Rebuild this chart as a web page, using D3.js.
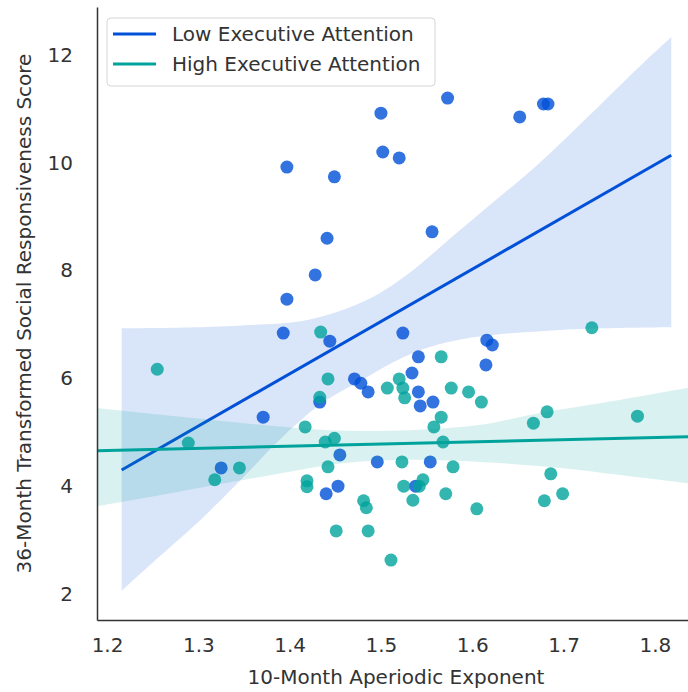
<!DOCTYPE html>
<html>
<head>
<meta charset="utf-8">
<script src="https://cdn.jsdelivr.net/npm/d3@7"></script>
<style>
body { margin: 0; background: #fff; }
text { font-family: "DejaVu Sans", sans-serif; fill: #333; }
</style>
</head>
<body>
<script>
// data
var seriesNames = ["Low Executive Attention", "High Executive Attention"];

var lowExp = [1.500,1.573,1.397,1.449,1.502,1.520,1.441,1.556,1.428,1.397,1.393,1.524,1.444,1.652,1.678,1.683,1.471,1.478,1.486,1.433,1.371,1.455,1.616,1.622,1.541,1.534,1.615,1.541,1.543,1.557,1.496,1.453,1.440,1.554,1.538,1.325];
var lowSrs = [10.92,11.20,9.92,9.74,10.20,10.09,8.60,8.72,7.92,7.47,6.84,6.84,6.69,10.85,11.09,11.09,5.99,5.91,5.75,5.56,5.28,4.58,6.71,6.62,6.40,6.10,6.25,5.75,5.49,5.56,4.45,4.00,3.86,4.45,4.00,4.34];

var highExp = [1.255,1.289,1.345,1.318,1.434,1.442,1.507,1.520,1.524,1.526,1.433,1.417,1.439,1.449,1.566,1.577,1.596,1.610,1.566,1.558,1.568,1.667,1.682,1.731,1.781,1.442,1.523,1.419,1.419,1.481,1.484,1.525,1.535,1.451,1.486,1.511,1.579,1.546,1.542,1.571,1.605,1.686,1.679,1.699];
var highSrs = [6.17,4.80,4.34,4.12,6.86,5.99,5.82,5.99,5.82,5.64,5.65,5.10,4.82,4.89,6.40,5.82,5.75,5.56,5.28,5.10,4.82,5.17,5.38,6.94,5.30,4.36,4.45,4.10,3.99,3.73,3.60,4.00,3.74,3.17,3.17,2.63,4.36,4.12,4.00,3.86,3.58,4.23,3.73,3.86];

// fitted lines (end points)
var lowFitExp = [1.216, 1.818];
var lowFitSrs = [4.30, 10.14];
var highFitExp = [1.189, 1.844];
var highFitSrs = [4.66, 4.92];

// confidence bands [exponent, score]
var lowBandUpper = [[1.216,6.93],[1.302,6.95],[1.357,6.99],[1.412,7.06],[1.455,7.25],[1.490,7.50],[1.521,7.83],[1.546,8.16],[1.576,8.60],[1.609,9.07],[1.674,10.00],[1.729,10.89],[1.791,11.91],[1.818,12.33]];
var lowBandLower = [[1.216,2.06],[1.247,2.54],[1.302,3.37],[1.357,4.30],[1.389,4.86],[1.433,5.51],[1.477,5.95],[1.532,6.45],[1.587,6.72],[1.696,6.90],[1.818,6.95]];
var highBandUpper = [[1.189,5.45],[1.368,5.14],[1.444,5.04],[1.532,5.04],[1.609,5.14],[1.674,5.36],[1.740,5.54],[1.844,5.85]];
var highBandLower = [[1.189,3.63],[1.247,3.80],[1.302,3.97],[1.368,4.17],[1.460,4.43],[1.532,4.49],[1.609,4.45],[1.696,4.34],[1.762,4.21],[1.844,4.04]];

var xTicks = [1.2, 1.3, 1.4, 1.5, 1.6, 1.7, 1.8];
var yTicks = [2, 4, 6, 8, 10, 12];

var colors = ["#0050d8", "#00a39c"];

var margin = {top: 7, right: -7, bottom: 72, left: 97};
var W = 688, H = 692;
var width = W - margin.left - margin.right;
var height = H - margin.top - margin.bottom;

var svg = d3.select("body").append("svg")
    .attr("width", W)
    .attr("height", H);

svg.append("clipPath").attr("id", "plotclip")
  .append("rect").attr("x", 0).attr("y", 0).attr("width", width).attr("height", height);

var g = svg.append("g")
    .attr("transform", "translate(" + margin.left + "," + margin.top + ")");

var xScale = d3.scaleLinear().domain([1.189, 1.844]).range([0, width]);
var yScale = d3.scaleLinear().domain([1.518, 12.89]).range([height, 0]);

var plot = g.append("g").attr("clip-path", "url(#plotclip)");

var straight = d3.line()
    .x(function(d){ return xScale(d[0]); })
    .y(function(d){ return yScale(d[1]); });

var smooth = d3.line()
    .x(function(d){ return xScale(d[0]); })
    .y(function(d){ return yScale(d[1]); })
    .curve(d3.curveCatmullRom);

var groups = [
  {exp: lowExp, srs: lowSrs, fx: lowFitExp, fy: lowFitSrs, up: lowBandUpper, lo: lowBandLower, color: colors[0]},
  {exp: highExp, srs: highSrs, fx: highFitExp, fy: highFitSrs, up: highBandUpper, lo: highBandLower, color: colors[1]}
];

groups.forEach(function(grp){
  // scatter
  plot.append("g").selectAll("circle")
    .data(d3.range(grp.exp.length))
    .enter()
    .append("circle")
    .attr("cx", function(i){ return xScale(grp.exp[i]); })
    .attr("cy", function(i){ return yScale(grp.srs[i]); })
    .attr("r", 6.5)
    .attr("fill", grp.color)
    .attr("fill-opacity", 0.8);

  // band: smooth upper edge, then smooth lower edge back
  var upPath = smooth(grp.up);
  var loPath = smooth(grp.lo.slice().reverse());
  plot.append("path")
    .attr("d", upPath + "L" + loPath.substring(1) + "Z")
    .attr("fill", grp.color)
    .attr("fill-opacity", 0.15)
    .attr("stroke", "none");

  // fit line
  plot.append("path")
    .attr("d", straight([[grp.fx[0], grp.fy[0]], [grp.fx[1], grp.fy[1]]]))
    .attr("stroke", grp.color)
    .attr("stroke-width", 3)
    .attr("fill", "none");
});

// Y axis
var yAxis = d3.axisLeft(yScale).tickValues(yTicks).tickSize(0).tickPadding(24).tickFormat(d3.format("d"));
var yG = g.append("g").call(yAxis);
yG.select(".domain").attr("stroke", "#333").attr("stroke-width", 1.5);
yG.selectAll("text").style("font-size", "20px").style("font-family", "DejaVu Sans");

// X axis
var xAxis = d3.axisBottom(xScale).tickValues(xTicks).tickSize(0).tickPadding(18).tickFormat(d3.format(".1f"));
var xG = g.append("g").attr("transform", "translate(0," + height + ")").call(xAxis);
xG.select(".domain").attr("stroke", "#333").attr("stroke-width", 1.5);
xG.selectAll("text").style("font-size", "20px").style("font-family", "DejaVu Sans");

// axis labels
svg.append("text")
    .text("10-Month Aperiodic Exponent")
    .attr("x", margin.left + width / 2)
    .attr("y", 684)
    .attr("text-anchor", "middle")
    .style("font-size", "20px");

svg.append("text")
    .text("36-Month Transformed Social Responsiveness Score")
    .attr("transform", "translate(31," + (margin.top + height / 2) + ") rotate(-90)")
    .attr("text-anchor", "middle")
    .style("font-size", "20px");

// legend
var legend = svg.append("g");
legend.append("rect")
    .attr("x", 107).attr("y", 18)
    .attr("width", 328).attr("height", 68)
    .attr("rx", 4)
    .attr("fill", "#fff").attr("fill-opacity", 0.8)
    .attr("stroke", "#d6d6d6");

seriesNames.forEach(function(name, i){
  var ly = 34 + i * 30;
  legend.append("line")
    .attr("x1", 113).attr("x2", 156)
    .attr("y1", ly).attr("y2", ly)
    .attr("stroke", colors[i]).attr("stroke-width", 3);
  legend.append("text")
    .text(name)
    .attr("x", 172).attr("y", ly)
    .attr("dy", "0.35em")
    .style("font-size", "20px");
});
</script>
</body>
</html>
